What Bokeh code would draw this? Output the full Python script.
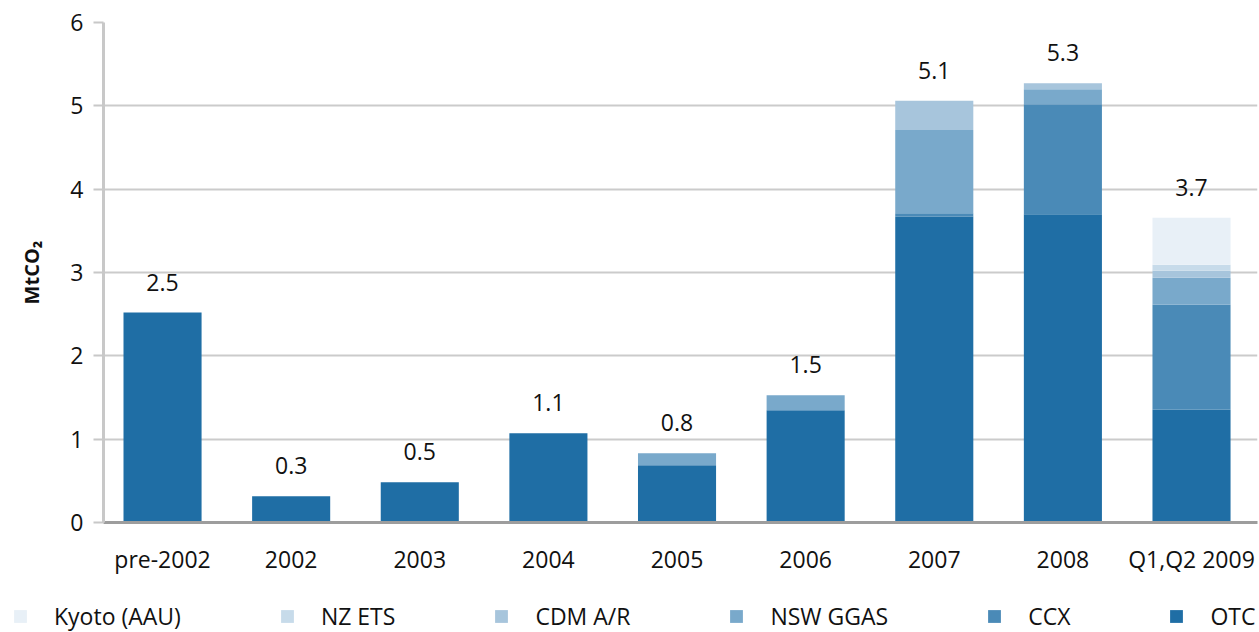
from bokeh.plotting import figure
from bokeh.models import ColumnDataSource, Range1d, Legend, LegendItem, FixedTicker, LabelSet
from bokeh.core.properties import value
from bokeh.embed import file_html
from bokeh.resources import INLINE

# ---- data ----
categories = ["pre-2002", "2002", "2003", "2004", "2005", "2006", "2007", "2008", "Q1,Q2 2009"]
otc   = [2.52, 0.316, 0.484, 1.072, 0.688, 1.348, 3.67, 3.70, 1.352]
ccx   = [0.0, 0.0, 0.0, 0.0, 0.0, 0.0, 0.04, 1.32, 1.26]
nsw   = [0.0, 0.0, 0.0, 0.0, 0.144, 0.18, 1.00, 0.18, 0.324]
cdm   = [0.0, 0.0, 0.0, 0.0, 0.0, 0.0, 0.35, 0.072, 0.084]
nzets = [0.0, 0.0, 0.0, 0.0, 0.0, 0.0, 0.0, 0.0, 0.072]
kyoto = [0.0, 0.0, 0.0, 0.0, 0.0, 0.0, 0.0, 0.0, 0.564]
y_ticks = [0, 1, 2, 3, 4, 5, 6]

series_keys = ["otc", "ccx", "nsw", "cdm", "nzets", "kyoto"]
series_names = ["OTC", "CCX", "NSW GGAS", "CDM A/R", "NZ ETS", "Kyoto (AAU)"]
colors = ["#1f6ea5", "#4a8ab7", "#79a9cb", "#a7c5dc", "#c7dbea", "#e8f0f7"]

xs = list(range(len(categories)))
totals = [round(sum(v), 3) for v in zip(otc, ccx, nsw, cdm, nzets, kyoto)]
labels = ["%.1f" % t for t in totals]

source = ColumnDataSource(dict(x=xs, otc=otc, ccx=ccx, nsw=nsw, cdm=cdm, nzets=nzets,
                               kyoto=kyoto, total=totals, label=labels))

FONT = "Open Sans"
FS = "23px"

p = figure(width=1259, height=586, output_backend="svg", toolbar_location=None,
           x_range=Range1d(-0.459, 8.513), y_range=Range1d(0, 6),
           min_border_left=103, min_border_right=2, min_border_top=22, min_border_bottom=64)
p.outline_line_color = None
p.background_fill_color = "white"
p.border_fill_color = "white"

renderers = p.vbar_stack(series_keys, x="x", width=0.607, source=source,
                         color=colors, line_color=None)

# data labels (totals)
lbl = LabelSet(x="x", y="total", text="label", source=source, y_offset=22,
               text_align="center", text_baseline="alphabetic",
               text_font=value(FONT), text_font_size=value(FS), text_color="#111111")
p.add_layout(lbl)

# axes / grid
p.xgrid.grid_line_color = None
p.ygrid.grid_line_color = "#cbcbcb"
p.ygrid.grid_line_width = 2
p.ygrid.ticker = FixedTicker(ticks=y_ticks)

p.yaxis.ticker = FixedTicker(ticks=y_ticks)
p.yaxis.axis_line_color = "#c8c8c8"
p.yaxis.axis_line_width = 3
p.yaxis.major_tick_line_color = "#c8c8c8"
p.yaxis.major_tick_line_width = 2
p.yaxis.major_tick_out = 10
p.yaxis.major_tick_in = 0
p.yaxis.minor_tick_line_color = None
p.yaxis.major_label_standoff = 10
p.yaxis.major_label_text_font = FONT
p.yaxis.major_label_text_font_size = FS
p.yaxis.major_label_text_color = "#111111"
p.yaxis.axis_label = "MtCO\u2082"
p.yaxis.axis_label_text_font = FONT
p.yaxis.axis_label_text_font_style = "bold"
p.yaxis.axis_label_text_font_size = "20px"
p.yaxis.axis_label_text_color = "#111111"
p.yaxis.axis_label_standoff = 22

p.xaxis.ticker = FixedTicker(ticks=xs)
p.xaxis.major_label_overrides = {i: c for i, c in zip(xs, categories)}
p.xaxis.axis_line_color = "#9d9d9d"
p.xaxis.axis_line_width = 3
p.xaxis.major_tick_line_color = None
p.xaxis.minor_tick_line_color = None
p.xaxis.major_tick_out = 0
p.xaxis.major_tick_in = 0
p.xaxis.major_label_standoff = 20
p.xaxis.major_label_text_font = FONT
p.xaxis.major_label_text_font_size = FS
p.xaxis.major_label_text_color = "#111111"

# ---- legend strip (separate small root under the chart) ----
lg = figure(width=1259, height=46, output_backend="svg", toolbar_location=None,
            x_range=Range1d(0, 1), y_range=Range1d(0, 1),
            min_border=0, min_border_left=0, min_border_right=0,
            min_border_top=0, min_border_bottom=0)
lg.axis.visible = False
lg.grid.visible = False
lg.outline_line_color = None
lg.background_fill_color = "white"
lg.border_fill_color = "white"

legend_order = [5, 4, 3, 2, 1, 0]
items = []
for i in legend_order:
    # swatch-only renderer (its single placeholder bar lies outside the visible range)
    r = lg.vbar(x=[-5], top=[0], width=0.1, fill_color=colors[i], line_color=None)
    items.append(LegendItem(label=series_names[i], renderers=[r]))
leg = Legend(items=items, location=(12, 0), orientation="horizontal",
             glyph_width=16, glyph_height=16, label_standoff=26,
             padding=0, margin=0, spacing=98,
             border_line_color=None, background_fill_alpha=0,
             label_text_font=FONT, label_text_font_size=FS, label_text_color="#111111")
lg.add_layout(leg)

open("out.html", "w").write(file_html([p, lg], INLINE))
